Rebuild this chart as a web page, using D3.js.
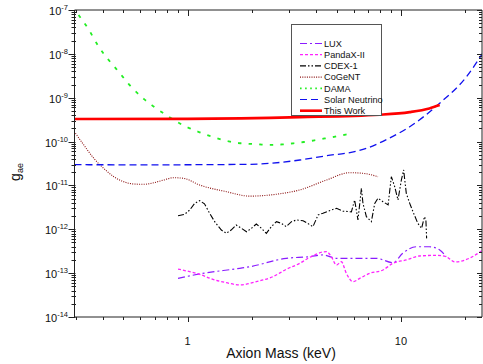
<!DOCTYPE html>
<html>
<head>
<meta charset="utf-8">
<script src="https://cdn.jsdelivr.net/npm/d3@7/dist/d3.min.js"></script>
<style>
  body { margin: 0; background: #fff; }
  text { font-family: "Liberation Sans", Arial, sans-serif; fill: #111; }
</style>
</head>
<body>
<div id="chart"></div>
<script>
// ---- data (mass in keV, coupling g_ae) ----
var luxMass = [0.902, 1.14, 1.756, 1.955, 2.90, 3.73, 4.31, 4.99, 6.17, 7.67, 9.18, 10.2, 11.8, 13.6, 15.2, 16.3];
var luxG = [7.6e-14, 9.6e-14, 1.29e-13, 1.40e-13, 2.18e-13, 2.37e-13, 2.6e-13, 2.18e-13, 2.18e-13, 2.18e-13, 1.73e-13, 2.84e-13, 4.0e-13, 4.0e-13, 3.37e-13, 2.37e-13];

var pandaMass = [0.902, 1.023, 1.14, 1.315, 1.52, 1.756, 2.10, 2.51, 2.90, 3.36, 3.67, 4.48, 4.72, 4.99, 5.26, 5.55, 5.96, 6.41, 7.14, 8.24, 9.18, 10.6, 12.2, 14.7, 16.3, 17.9, 21.0, 24.2];
var pandaG = [1.24e-13, 1.08e-13, 9.4e-14, 7.2e-14, 6.05e-14, 5.37e-14, 6.4e-14, 8.3e-14, 1.22e-13, 1.68e-13, 2.18e-13, 3.1e-13, 2.37e-13, 1.53e-13, 1.82e-13, 9.9e-14, 6.4e-14, 7.6e-14, 9.9e-14, 1.18e-13, 1.68e-13, 2.0e-13, 2.46e-13, 2.55e-13, 2.37e-13, 1.8e-13, 2.2e-13, 3.37e-13];

var cdexMass = [0.902, 0.969, 1.023, 1.08, 1.14, 1.20, 1.27, 1.34, 1.44, 1.52, 1.60, 1.69, 1.79, 1.89, 1.99, 2.10, 2.22, 2.34, 2.47, 2.61, 2.75, 2.90, 3.07, 3.24, 3.48, 3.87, 4.09, 4.31, 4.72, 4.99, 5.35, 5.86, 6.07, 6.29, 6.53, 6.64, 6.89, 7.27, 7.54, 7.81, 8.24, 8.71, 9.02, 9.35, 9.69, 10.05, 10.3, 10.6, 11.0, 11.4, 12.0, 12.5, 12.9, 13.1, 13.2];
var cdexG = [2.04e-12, 2.2e-12, 2.75e-12, 3.9e-12, 4.5e-12, 3.8e-12, 2.3e-12, 1.49e-12, 9.6e-13, 8.1e-13, 9.6e-13, 1.25e-12, 1.05e-12, 8.8e-13, 1.05e-12, 1.32e-12, 1.05e-12, 8.1e-13, 1.15e-12, 1.49e-12, 1.37e-12, 1.15e-12, 1.49e-12, 1.63e-12, 1.57e-12, 1.15e-12, 2.12e-12, 2.32e-12, 2.75e-12, 3.0e-12, 2.6e-12, 2.5e-12, 4.65e-12, 1.63e-12, 8.6e-12, 3.9e-12, 1.94e-12, 1.49e-12, 3.9e-12, 5.1e-12, 4.26e-12, 3.6e-12, 1.58e-11, 9.4e-12, 4.65e-12, 1.33e-11, 2.25e-11, 6.6e-12, 3.9e-12, 2.5e-12, 1.37e-12, 1.05e-12, 1.94e-12, 1.6e-12, 6.2e-13];

var cogentMass = [0.298, 0.326, 0.363, 0.404, 0.451, 0.501, 0.558, 0.622, 0.693, 0.773, 0.861, 0.959, 1.14, 1.52, 1.95, 2.61, 3.36, 4.48, 5.75, 6.64, 7.81];
var cogentG = [1.55e-10, 8.4e-11, 4.16e-11, 2.46e-11, 1.58e-11, 1.22e-11, 1.08e-11, 1.06e-11, 1.15e-11, 1.33e-11, 1.5e-11, 1.45e-11, 1.02e-11, 7.2e-12, 5.7e-12, 6.3e-12, 7.9e-12, 1.33e-11, 1.95e-11, 1.89e-11, 1.58e-11];

var damaMass = [0.31, 0.341, 0.383, 0.427, 0.475, 0.531, 0.607, 0.696, 0.796, 0.969, 1.10, 1.27, 1.46, 1.69, 2.02, 2.43, 3.36, 4.5, 5.94];
var damaG = [7.4e-8, 3.83e-8, 1.46e-8, 7.2e-9, 3.92e-9, 2.02e-9, 1.05e-9, 6.2e-10, 4.0e-10, 2.26e-10, 1.74e-10, 1.34e-10, 1.09e-10, 9.4e-11, 8.8e-11, 8.4e-11, 9.5e-11, 1.2e-10, 1.55e-10];

var solarMass = [0.295, 0.664, 1.955, 3.36, 4.48, 6.17, 6.89, 8.86, 11.0, 15.2, 20.3, 24.5];
var solarG = [2.97e-11, 2.95e-11, 3.03e-11, 3.8e-11, 4.76e-11, 6.0e-11, 7.0e-11, 1.21e-10, 2.18e-10, 7.5e-10, 3.0e-9, 1.15e-8];

var workMass = [0.295, 1, 3.36, 7.94, 11, 13.6, 15.2];
var workG = [3.27e-10, 3.3e-10, 3.6e-10, 4.1e-10, 4.7e-10, 5.7e-10, 6.8e-10];

var seriesNames = ["LUX", "PandaX-II", "CDEX-1", "CoGeNT", "DAMA", "Solar Neutrino", "This Work"];
var xTickLabels = [1, 10];
var xMinorTicks = [0.3, 0.4, 0.5, 0.6, 0.7, 0.8, 0.9, 2, 3, 4, 5, 6, 7, 8, 9, 20];
var yTickExponents = [-14, -13, -12, -11, -10, -9, -8, -7];

// ---- layout ----
var svgWidth = 483;
var svgHeight = 364;
var plotLeft = 74.5, plotRight = 482, plotTop = 10, plotBottom = 317;

var svg = d3.select("#chart").append("svg")
  .attr("width", svgWidth)
  .attr("height", svgHeight);

var x = d3.scaleLog().domain([0.295, 24]).range([plotLeft, plotRight]);
var y = d3.scaleLog().domain([1e-14, 1e-7]).range([plotBottom, plotTop]);

svg.append("clipPath").attr("id", "plotclip")
  .append("rect")
  .attr("x", plotLeft).attr("y", plotTop)
  .attr("width", plotRight - plotLeft).attr("height", plotBottom - plotTop);

// styles per series
var styles = {
  "LUX":            { color: "#8a1cff", width: 1.2, dash: "7,3,2,3" },
  "PandaX-II":      { color: "#ff22ff", width: 1.3, dash: "3,2" },
  "CDEX-1":         { color: "#000000", width: 1.1, dash: "6,2,1.5,2,1.5,2" },
  "CoGeNT":         { color: "#8b1010", width: 1.1, dash: "1,1.3" },
  "DAMA":           { color: "#22ee22", width: 1.8, dash: "1.6,9" },
  "Solar Neutrino": { color: "#1010ee", width: 1.3, dash: "7,4" },
  "This Work":      { color: "#ff0000", width: 2.6, dash: null }
};

var seriesData = {
  "LUX": [luxMass, luxG],
  "PandaX-II": [pandaMass, pandaG],
  "CDEX-1": [cdexMass, cdexG],
  "CoGeNT": [cogentMass, cogentG],
  "DAMA": [damaMass, damaG],
  "Solar Neutrino": [solarMass, solarG],
  "This Work": [workMass, workG]
};

var plot = svg.append("g").attr("clip-path", "url(#plotclip)");

seriesNames.forEach(function(name) {
  var m = seriesData[name][0], g = seriesData[name][1];
  var pts = m.map(function(d, i) { return [d, g[i]]; });
  var line = d3.line()
    .x(function(d) { return x(d[0]); })
    .y(function(d) { return y(d[1]); })
    .curve(name === "CDEX-1" ? d3.curveLinear : d3.curveMonotoneX);
  var st = styles[name];
  plot.append("path")
    .datum(pts)
    .attr("d", line)
    .attr("fill", "none")
    .attr("stroke", st.color)
    .attr("stroke-width", st.width)
    .attr("stroke-dasharray", st.dash)
    .attr("stroke-linecap", name === "DAMA" ? "square" : "butt");
});

// ---- axes frame ----
var axisColor = "#222";
var frame = svg.append("g").attr("stroke", axisColor).attr("stroke-width", 1).attr("fill", "none");
frame.append("line").attr("x1", plotLeft).attr("x2", plotRight).attr("y1", plotBottom).attr("y2", plotBottom);
frame.append("line").attr("x1", plotLeft).attr("x2", plotRight).attr("y1", plotTop).attr("y2", plotTop);
frame.append("line").attr("x1", plotLeft).attr("x2", plotLeft).attr("y1", plotTop).attr("y2", plotBottom);
frame.append("line").attr("x1", plotRight).attr("x2", plotRight).attr("y1", plotTop).attr("y2", plotBottom);

// x ticks: bottom outward, top inward
xTickLabels.forEach(function(v) {
  var px = Math.round(x(v)) + 0.5;
  frame.append("line").attr("x1", px).attr("x2", px).attr("y1", plotBottom).attr("y2", plotBottom + 5);
  frame.append("line").attr("x1", px).attr("x2", px).attr("y1", plotTop).attr("y2", plotTop + 6);
  svg.append("text").attr("x", x(v)).attr("y", 345)
    .attr("text-anchor", "middle").attr("font-size", 11).text(v);
});
xMinorTicks.forEach(function(v) {
  var px = Math.round(x(v)) + 0.5;
  frame.append("line").attr("x1", px).attr("x2", px).attr("y1", plotBottom).attr("y2", plotBottom + 3);
  frame.append("line").attr("x1", px).attr("x2", px).attr("y1", plotTop).attr("y2", plotTop + 3);
});

// y ticks: left outward, right inward
yTickExponents.forEach(function(e) {
  var py = Math.round(y(Math.pow(10, e))) + 0.5;
  frame.append("line").attr("x1", plotLeft - 6).attr("x2", plotLeft + 1).attr("y1", py).attr("y2", py);
  frame.append("line").attr("x1", plotRight - 5).attr("x2", plotRight).attr("y1", py).attr("y2", py);
  var t = svg.append("text").attr("x", 68).attr("y", py + 4)
    .attr("text-anchor", "end").attr("font-size", 11);
  t.append("tspan").text("10");
  t.append("tspan").attr("font-size", 7.5).attr("dy", -5).text(e);
  if (e < -7) {
    for (var k = 2; k <= 9; k++) {
      var my = Math.round(y(k * Math.pow(10, e))) + 0.5;
      frame.append("line").attr("x1", plotLeft - 3).attr("x2", plotLeft + 1.5).attr("y1", my).attr("y2", my);
      frame.append("line").attr("x1", plotRight - 3).attr("x2", plotRight).attr("y1", my).attr("y2", my);
    }
  }
});

// axis titles
svg.append("text").attr("x", 281).attr("y", 358)
  .attr("text-anchor", "middle").attr("font-size", 14).text("Axion Mass (keV)");

var yl = svg.append("text").attr("transform", "translate(20,172) rotate(-90)")
  .attr("text-anchor", "middle").attr("font-size", 14);
yl.append("tspan").text("g");
yl.append("tspan").attr("font-size", 9).attr("dy", 3).text("ae");

// ---- legend ----
var legend = svg.append("g");
legend.append("rect")
  .attr("x", 291.5).attr("y", 24.5).attr("width", 90).attr("height", 91)
  .attr("fill", "#fff").attr("stroke", "#555").attr("stroke-width", 1);

seriesNames.forEach(function(name, i) {
  var ly = 43.5 + i * 11.2;
  var st = styles[name];
  legend.append("line")
    .attr("x1", 300).attr("x2", 322).attr("y1", ly).attr("y2", ly)
    .attr("stroke", st.color)
    .attr("stroke-width", name === "This Work" ? 2.6 : (name === "DAMA" ? 1.8 : 1.2))
    .attr("stroke-dasharray", name === "DAMA" ? "1.6,3.5" : st.dash);
  legend.append("text")
    .attr("x", 324).attr("y", ly + 3.3)
    .attr("font-size", 9.2).text(name);
});
</script>
</body>
</html>
